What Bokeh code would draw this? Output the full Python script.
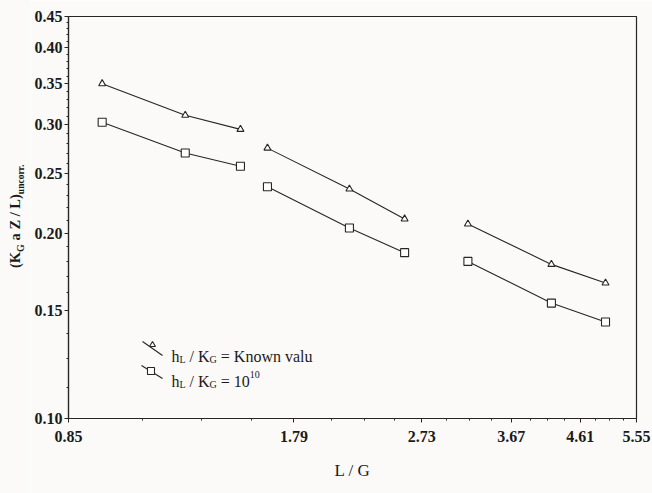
from bokeh.plotting import figure
from bokeh.layouts import row
from bokeh.models import Range1d, FixedTicker, PrintfTickFormatter, Label, PolyAnnotation, Div
from bokeh.embed import file_html
from bokeh.resources import INLINE

# ---- data ----
L_G = [[0.95, 1.25, 1.50], [1.64, 2.15, 2.58], [3.18, 4.19, 5.01]]
known_value = [[0.350, 0.311, 0.295], [0.275, 0.236, 0.211], [0.207, 0.178, 0.166]]
ratio_1e10 = [[0.303, 0.270, 0.257], [0.238, 0.204, 0.186], [0.180, 0.154, 0.1435]]
x_ticks = [0.85, 1.79, 2.73, 3.67, 4.61, 5.55]
y_ticks = [0.10, 0.15, 0.20, 0.25, 0.30, 0.35, 0.40, 0.45]

x_minor = []
for a, b in zip(x_ticks[:-1], x_ticks[1:]):
    x_minor += [a + (b - a) * k / 4 for k in (1, 2, 3)]
y_minor = [0.1125, 0.125, 0.1375] + [round(0.15 + 0.01 * k, 2) for k in range(1, 30)
                                     if round(0.15 + 0.01 * k, 2) not in y_ticks]

INK = "#262626"
TXT = "#1a1a1a"
SERIF = "Liberation Serif"
BG_OUT = "#fbfaf8"
BG_IN = "#fbfaf8"
NB = "\u00a0"

W, H = 652, 493
LW = 30                        # width of the strip holding the y-axis title
L, R, T, B = 68, 636, 16, 418  # frame edges in page pixels

# ---- left strip with the rotated axis title (K_G a Z / L)_uncorr. ----
ytitle = Div(
    width=LW, height=H, margin=0,
    text=('<div style="position:relative;width:%dpx;height:%dpx;background:%s;overflow:hidden">'
          '<div style="position:absolute;left:6px;top:268px;transform:rotate(-90deg);transform-origin:0 0;'
          'white-space:nowrap;font-family:\'Liberation Serif\';font-weight:bold;font-size:14.5px;'
          'line-height:18px;color:%s">(K<sub style="font-size:10px">G</sub> a Z / L)'
          '<sub style="font-size:9.5px">uncorr.</sub></div></div>') % (LW, H, BG_OUT, TXT),
)

# ---- main plot ----
p = figure(width=W - LW, height=H, x_axis_type="log", y_axis_type="log",
           x_range=Range1d(0.85, 5.55), y_range=Range1d(0.10, 0.45),
           output_backend="svg", toolbar_location=None,
           min_border_left=L - LW, min_border_right=W - R, min_border_top=T, min_border_bottom=H - B)
p.background_fill_color = BG_IN
p.border_fill_color = BG_OUT
p.outline_line_color = INK
p.outline_line_width = 1.2
p.grid.visible = False

for ax in (p.xaxis[0], p.yaxis[0]):
    ax.axis_line_color = INK
    ax.axis_line_width = 1.2
    ax.major_tick_line_color = INK
    ax.minor_tick_line_color = INK
    ax.major_tick_out = 4
    ax.major_tick_in = 0
    ax.minor_tick_out = 2
    ax.minor_tick_in = 0
    ax.major_label_text_font = SERIF
    ax.major_label_text_font_style = "bold"
    ax.major_label_text_font_size = "16px"
    ax.major_label_text_color = TXT
    ax.formatter = PrintfTickFormatter(format="%.2f")

p.xaxis.ticker = FixedTicker(ticks=x_ticks, minor_ticks=x_minor)
p.yaxis.ticker = FixedTicker(ticks=y_ticks, minor_ticks=y_minor)
p.xaxis.major_label_standoff = 8
p.yaxis.major_label_standoff = 2
p.xaxis.axis_label = "L / G"
p.xaxis.axis_label_text_font = SERIF
p.xaxis.axis_label_text_font_style = "normal"
p.xaxis.axis_label_text_font_size = "17px"
p.xaxis.axis_label_text_color = TXT
p.xaxis.axis_label_standoff = 16

for xs, ys in zip(L_G, known_value):
    p.line(xs, ys, line_color=INK, line_width=1.1)
    p.scatter(xs, ys, marker="triangle", size=7, fill_color="white", line_color=INK, line_width=1.1)
for xs, ys in zip(L_G, ratio_1e10):
    p.line(xs, ys, line_color=INK, line_width=1.1)
    p.scatter(xs, ys, marker="square", size=8, fill_color="white", line_color=INK, line_width=1.1)

# ---- text helpers (page px -> frame-relative screen units) ----
W_REG = {" ": .25, NB: .25, "(": .333, ")": .333, "/": .278, "=": .564, ".": .25, "a": .444, "c": .444,
         "h": .5, "l": .278, "n": .5, "o": .5, "r": .333, "u": .5, "v": .5, "w": .722,
         "K": .722, "G": .722, "L": .611, "Z": .611}


def tw(s, size):
    return sum(W_REG.get(c, 0.5) for c in s) * size


def run(pieces, X, Y):
    adv = 0.0
    for text, size, off in pieces:
        p.add_layout(Label(x=X + adv - L, y=B - (Y - off), x_units="screen", y_units="screen",
                           text=text.replace(" ", NB),
                           text_font=SERIF, text_font_style="normal",
                           text_font_size=f"{size}px", text_color=TXT,
                           text_align="left", text_baseline="alphabetic"))
        adv += tw(text, size)


def poly(pts, fill=None):
    p.add_layout(PolyAnnotation(xs=[x - L for x, _ in pts], ys=[B - y for _, y in pts],
                                xs_units="screen", ys_units="screen",
                                fill_color=fill if fill else None, fill_alpha=1 if fill else 0,
                                line_color=INK, line_alpha=1, line_width=1.1))


# legend samples
poly([(142, 341), (162, 355)])
poly([(149, 346), (155, 346), (152, 341)], fill="white")
poly([(141, 365), (162, 378)])
poly([(147, 367), (154, 367), (154, 374), (147, 374)], fill="white")

run([("h", 16, 0), ("L", 10, -3), (" / K", 16, 0), ("G", 10, -3), (" = Known valu", 16, 0)], 171, 356)
run([("h", 16, 0), ("L", 10, -3), (" / K", 16, 0), ("G", 10, -3), (" = 10", 16, 0), ("10", 10, 7)], 171, 381)

open("out.html", "w").write(file_html(row(ytitle, p), INLINE))
